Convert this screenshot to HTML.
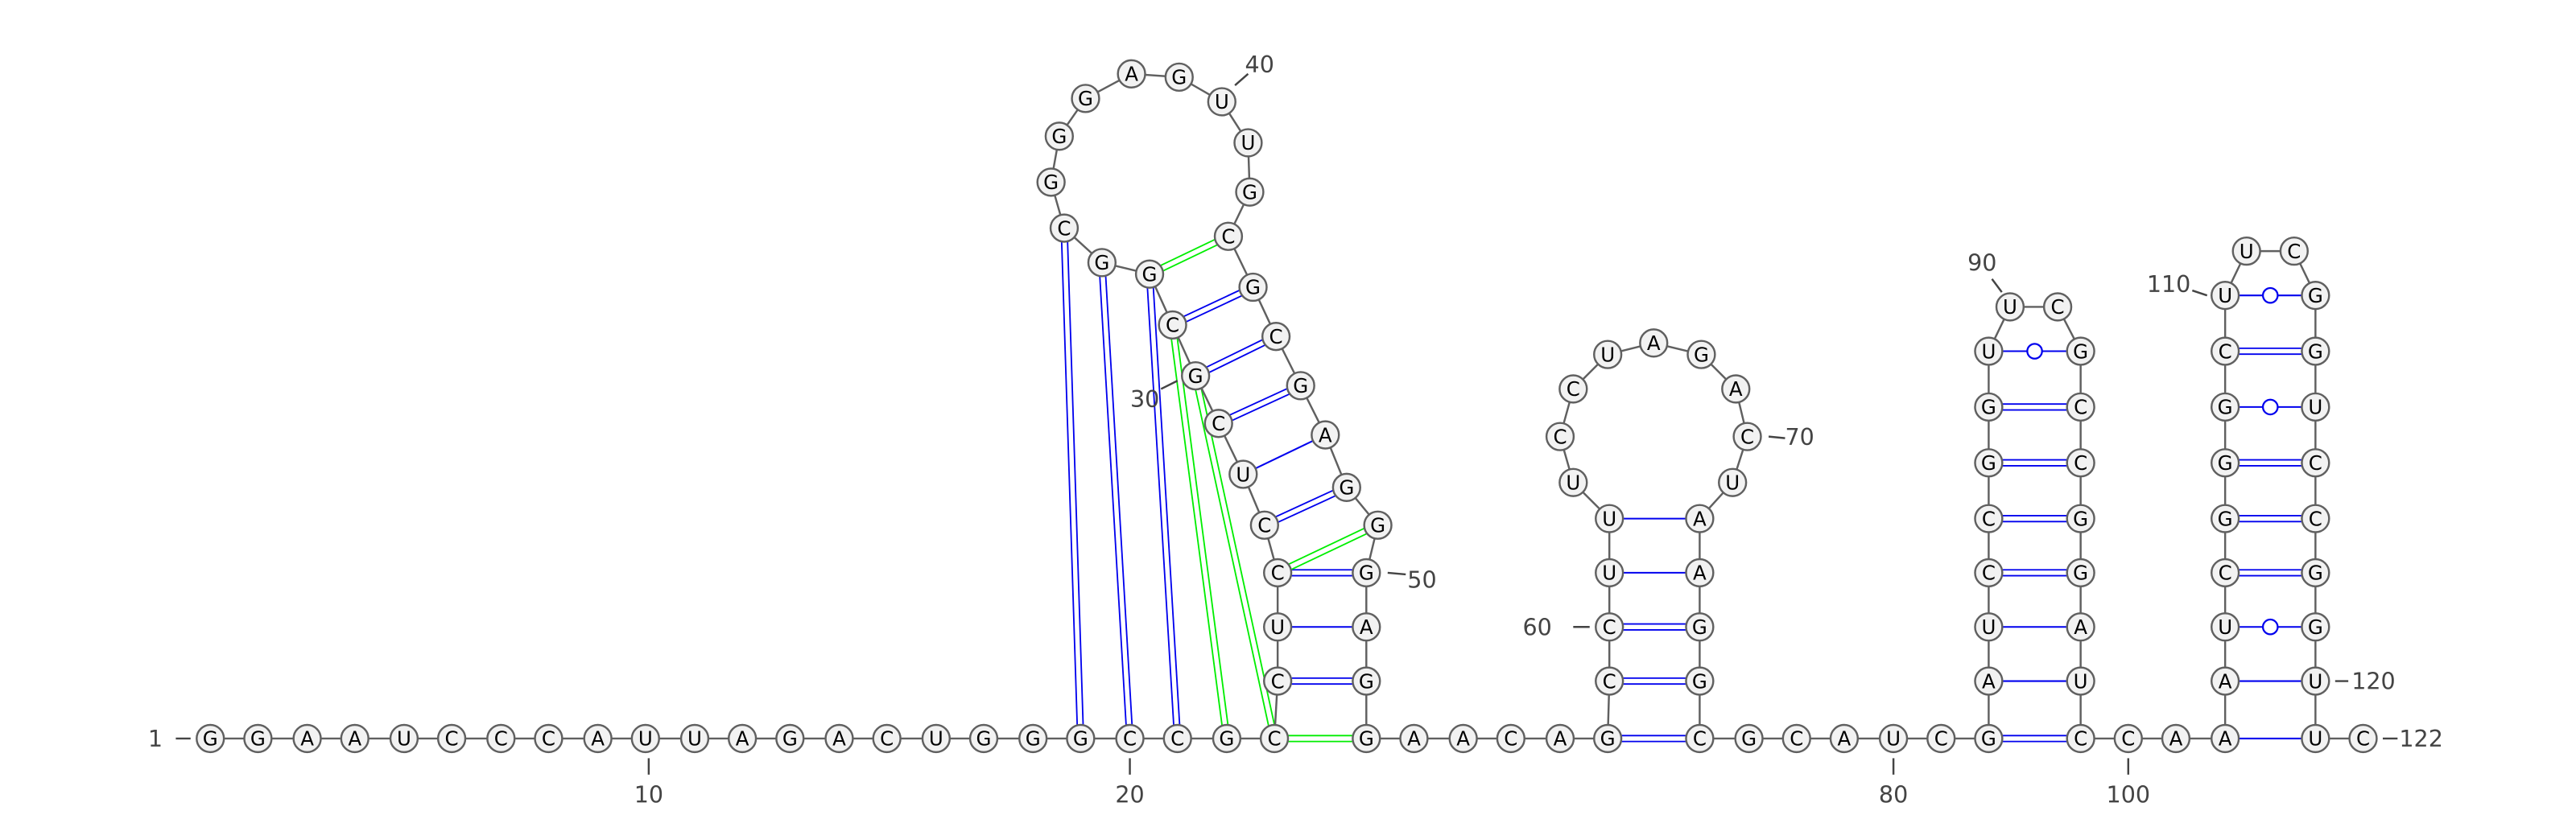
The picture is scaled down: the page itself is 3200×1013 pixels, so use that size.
<!DOCTYPE html>
<html><head><meta charset="utf-8">
<style>
html,body{margin:0;padding:0;background:#fff;}
svg{display:block;}
text{font-family:"DejaVu Sans","Liberation Sans",sans-serif;}
</style></head>
<body>
<svg id="rna" width="3200" height="1013" viewBox="0 0 1568.6 496.6" xmlns="http://www.w3.org/2000/svg">
<g id="pairs"></g>
<g id="backbone"></g>
<g id="nucs"></g>
<g id="labels"></g>
</svg>
<script>
const seq = [
 "G","G","A","A","U","C","C","C","A","U","U","A","G","A","C","U","G","G","G","C","C","G","C",
 "C","U","C","C","U","C","G","C","G","G","C","G","G","G","A","G","U","U","G","C","G","C","G","A","G","G","G","A","G","G",
 "A","A","C","A","G","C","C","U","U","U","C","C","U","A","G","A","C","U","A","A","G","G","C","G","C","A","U","C","G",
 "A","U","C","C","G","G","U","U","C","G","C","C","G","G","A","U","C","C","A",
 "A","A","U","C","G","G","G","C","U","U","C","G","G","U","C","C","G","G","U","U","C"].join("");
// layout positions (x,y) per nucleotide
const posX = [
 128,157,187,216,246,275,305,334,364,393,423,452,481,511,540,570,599,629,658,688,717,747,776,
 778,778,778,770,757,742,728,714,700,671,648,640,645,661,689,718,744,760,761,748,763,777,792,807,820,839,832,832,832,
 832,861,891,920,950,979,
 980,980,980,980,958,950,958,979,1007,1036,1057,1064,1055,1035,1035,1035,1035,
 1035,1065,1094,1123,1153,1182,1211,
 1211,1211,1211,1211,1211,1211,1211,1224,1253,1267,1267,1267,1267,1267,1267,1267,
 1267,1296,1325,1355,
 1355,1355,1355,1355,1355,1355,1355,1355,
 1368,1397,
 1410,1410,1410,1410,1410,1410,1410,1410,
 1410,1439];
const posY = [
 450,450,450,450,450,450,450,450,450,450,450,450,450,450,450,450,450,450,450,450,450,450,450,
 415,382,349,320,289,258,229,198,167,160,139,111,83,60,45,47,62,87,117,144,175,205,235,265,297,320,349,382,415,
 450,450,450,450,450,450,
 415,382,349,316,294,266,237,216,209,216,237,266,294,316,349,382,415,
 450,450,450,450,450,450,450,
 415,382,349,316,282,248,214,187,187,214,248,282,316,349,382,415,
 450,450,450,450,
 415,382,349,316,282,248,214,180,
 153,153,
 180,214,248,282,316,349,382,415,
 450,450];
// pairs: i, j (1-based), type: 1 single, 2 double, 3 wobble ; green flag
const pairI = [19,20,21,32,31,30,23,24,25,26,26,27,28,29,30,31, 58,59,60,61,62, 82,83,84,85,86,87,88,89, 102,103,104,105,106,107,108,109,110];
const pairJ = [34,33,32,43,22,23,53,52,51,50,49,48,47,46,45,44, 76,75,74,73,72, 99,98,97,96,95,94,93,92, 121,120,119,118,117,116,115,114,113];
const pairT = [2,2,2,2,2,2,2,2,1,2,2,2,1,2,2,2, 2,2,2,1,1, 2,1,1,2,2,2,2,3, 1,1,3,2,2,2,3,2,3];
const pairG = [0,0,0,1,1,1,1,0,0,0,1,0,0,0,0,0, 0,0,0,0,0, 0,0,0,0,0,0,0,0, 0,0,0,0,0,0,0,0,0];
const NS="http://www.w3.org/2000/svg";
function mk(tag,attrs,parent){const e=document.createElementNS(NS,tag);for(const k in attrs)e.setAttribute(k,attrs[k]);parent.appendChild(e);return e;}
const gP=document.getElementById('pairs'),gB=document.getElementById('backbone'),gN=document.getElementById('nucs'),gL=document.getElementById('labels');
const R=8.3;
const n=Math.min(seq.length,posX.length,posY.length);
for(let i=0;i<n-1;i++){
  const l=mk('line',{x1:posX[i],y1:posY[i],x2:posX[i+1],y2:posY[i+1],stroke:'#606060','stroke-width':1.2},gB);
  
  
}
for(let k=0;k<pairI.length;k++){
  const a=pairI[k]-1,b=pairJ[k]-1;
  const x1=posX[a],y1=posY[a],x2=posX[b],y2=posY[b];
  const col=pairG[k]?'#00ee00':'#0000ee';
  const dx=x2-x1,dy=y2-y1,L=Math.hypot(dx,dy),nx=-dy/L,ny=dx/L;
  const g=mk('g',{},gP);
  
  
  if(pairT[k]===2){
    for(const s of [-1.8,1.8]) mk('line',{x1:x1+nx*s,y1:y1+ny*s,x2:x2+nx*s,y2:y2+ny*s,stroke:col,'stroke-width':0.9},g);
  } else {
    mk('line',{x1:x1,y1:y1,x2:x2,y2:y2,stroke:col,'stroke-width':1.0},g);
    if(pairT[k]===3) mk('circle',{cx:(x1+x2)/2,cy:(y1+y2)/2,r:4.5,fill:'#fff',stroke:col,'stroke-width':1.1},g);
  }
}
for(let i=0;i<n;i++){
  const g=mk('g',{},gN);
  
  
  mk('circle',{cx:posX[i],cy:posY[i],r:R,fill:'#f2f2f2',stroke:'#606060','stroke-width':1.2},g);
  const t=mk('text',{x:posX[i],y:posY[i]+4.3,'text-anchor':'middle','font-size':12,fill:'#000'},g);
  t.textContent=seq[i];
}
const labT=["1","10","20","30","40","50","60","70","80","90","100","110","120","122"];
const labX=[99,395,688,706,767,857,945,1087,1153,1207,1296,1334,1432,1461];
const labY=[455,489,489,248,44,358,387,271,489,165,489,178,420,455];
const labA=["end","middle","middle","end","middle","start","end","start","middle","middle","middle","end","start","start"];
const tickX1=[107,395,688,707,752,845,958,1077,1153,1213,1296,1335,1422,1451];
const tickY1=[450,462,462,237,52,349,382,266,462,170,462,177,415,450];
const tickX2=[116,395,688,717,760,856,968,1087,1153,1219,1296,1344,1430,1460];
const tickY2=[450,472,472,232,45,350,382,267,472,178,472,180,415,450];
for(let k=0;k<labT.length;k++){
  const g=mk('g',{},gL);
  
  
  mk('line',{x1:tickX1[k],y1:tickY1[k],x2:tickX2[k],y2:tickY2[k],stroke:'#444','stroke-width':1.2},g);
  const t=mk('text',{x:labX[k],y:labY[k],'text-anchor':labA[k],'font-size':14,fill:'#444'},g);
  t.textContent=labT[k];
}
</script>
</body></html>
